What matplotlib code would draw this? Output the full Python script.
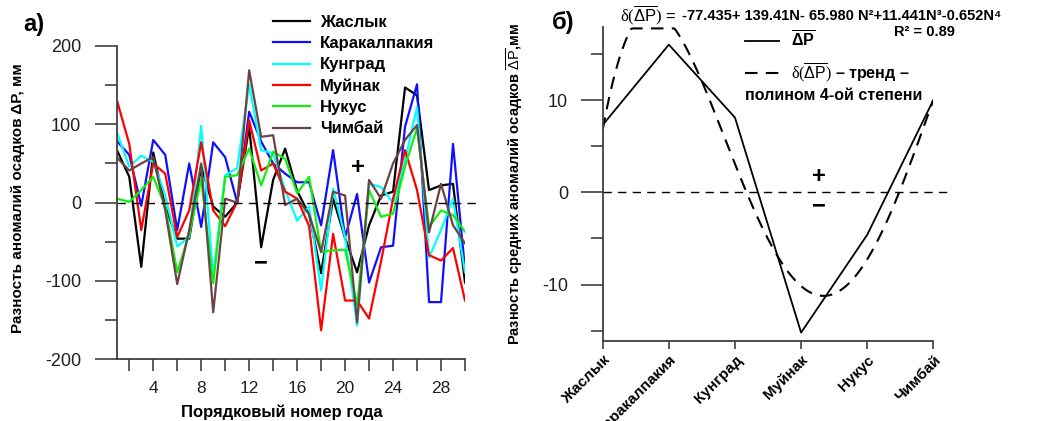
import numpy as np
import matplotlib
matplotlib.use("Agg")
import matplotlib.pyplot as plt

plt.rcParams['font.family'] = ['Liberation Sans', 'DejaVu Sans']
plt.rcParams['mathtext.fontset'] = 'custom'
plt.rcParams['mathtext.rm'] = 'Liberation Serif'
plt.rcParams['mathtext.it'] = 'Liberation Serif:italic'
plt.rcParams['mathtext.sf'] = 'Liberation Sans'
plt.rcParams['mathtext.bf'] = 'Liberation Sans:bold'
plt.rcParams['axes.unicode_minus'] = False

# --- данные панели а) : разность аномалий осадков по годам
years = list(range(1, 31))
zhaslyk = [66, 33, -82, 64, -5, -46, -46, 46, -5, -18, 0, 97, -57, 29, 69,
           15, -15, -90, 5, -45, -89, -29, 9, 14, 147, 137, 16, 22, 24, -102]
karakalpakia = [78, 61, -4, 80, 61, -35, 50, -31, 77, 58, 0, 116, 78, 50, 37,
                26, 26, -29, 67, -44, 11, -102, -57, -55, 97, 151, -127, -127, 75, -85]
kungrad = [88, 46, 60, 52, 10, -56, -44, 98, -94, 35, 44, 151, 67, 63, 16,
           -23, -5, -112, 18, -44, -157, 24, 20, 0, 54, 122, -70, -35, 5, -89]
muynak = [129, 75, -35, 50, 37, -44, -10, 77, -10, -30, 1, 105, 41, 50, 14,
          5, -30, -163, -40, -125, -125, -148, -75, 5, 67, 16, -67, -74, -58, -125]
nukus = [5, 1, 16, 33, -5, -89, -40, 30, -103, 33, 35, 69, 22, 65, 56,
         12, 33, -63, -61, -60, -131, 16, -18, -14, 46, 95, -31, -10, -16, -37]
chimbay = [57, 41, 50, 58, -10, -104, -35, 50, -140, 5, 0, 169, 84, 86, -3,
           5, -15, -63, 14, 9, -153, 29, 5, 50, 80, 99, -38, 24, -29, -52]

series_names = ['Жаслык', 'Каракалпакия', 'Кунград', 'Муйнак', 'Нукус', 'Чимбай']
series_colors = ['black', '#1010ff', '#00ffff', '#ff0000', '#10f010', '#6b4444']

# --- данные панели б) : средние по станциям и тренд
stations = ['Жаслык', 'Каракалпакия', 'Кунград', 'Муйнак', 'Нукус', 'Чимбай']
dp_mean = [7.3, 16.0, 8.1, -15.2, -4.6, 10.0]
# коэффициенты полинома из подписи (N^0 .. N^4)
trend_coef = [-77.435, 139.41, -65.980, 11.441, -0.652]
y_top = 17.91

spine_col = '#404040'

fig = plt.figure(figsize=(10.48, 4.21), dpi=100)

# ================= а) =================
ax1 = fig.add_axes([0.1119, 0.1466, 0.3318, 0.7442])
for name, col, vals in zip(series_names, series_colors,
                           [zhaslyk, karakalpakia, kungrad, muynak, nukus, chimbay]):
    ax1.plot(years, vals, color=col, lw=1.6, label=name)
ax1.axhline(0, xmin=0, xmax=1.045, color='black', lw=1, dashes=(6, 4.5), clip_on=False)

ax1.set_xlim(1, 30)
ax1.set_ylim(-200, 200)
ax1.set_xticks(range(4, 29, 4))
ax1.set_xticks(range(2, 31, 4), minor=True)
ax1.set_yticks([-200, -100, 0, 100, 200])
ax1.set_yticks([-150, -50, 50, 150], minor=True)
for s in ['top', 'right']:
    ax1.spines[s].set_visible(False)
for s in ['left', 'bottom']:
    ax1.spines[s].set_color(spine_col)
    ax1.spines[s].set_linewidth(1.3)
ax1.tick_params(axis='y', which='major', length=16, width=1.2, color=spine_col,
                labelsize=13, pad=10, labelcolor='#202020')
ax1.tick_params(axis='y', which='minor', length=8.6, width=1.2, color=spine_col)
ax1.tick_params(axis='x', which='both', length=8.6, width=1.2, color=spine_col,
                labelsize=12.5, pad=7, labelcolor='#202020')

ax1.set_ylabel('Разность аномалий осадков ΔP, мм', fontsize=11, fontweight='bold')
ax1.yaxis.set_label_coords(-0.265, 0.515)
ax1.set_xlabel('Порядковый номер года', fontsize=12, fontweight='bold')
ax1.xaxis.set_label_coords(0.474, -0.145)

ax1.legend(loc='upper left', bbox_to_anchor=(0.2605, 0.964), bbox_transform=fig.transFigure,
           frameon=False, prop={'weight': 'bold', 'size': 12}, handlelength=2.2,
           handletextpad=0.6, labelspacing=0.37, borderpad=0, borderaxespad=0)

ax1.text(21.1, 45, '+', fontsize=17, fontweight='bold', ha='center', va='center')
ax1.text(13.0, -77, '−', fontsize=17, fontweight='bold', ha='center', va='center')
fig.text(23 / 1048, 1 - 24 / 421, 'а)', fontsize=17, fontweight='bold', va='center')

# ================= б) =================
ax2 = fig.add_axes([0.5751, 0.1907, 0.3155, 0.7451])
xs = np.arange(len(stations))
ax2.plot(xs, dp_mean, color='black', lw=1.3, label=r'$\mathbf{\overline{\Delta P}}$')
n_fine = np.linspace(1, len(stations), 200)
trend = np.polynomial.polynomial.polyval(n_fine, trend_coef)
# в оригинале кривая упирается в верх графика и идёт по нему
trend = np.minimum(trend, y_top - 0.15)
ax2.plot(n_fine - 1, trend, color='black', lw=1.5, dashes=(6, 4),
         label=r'$\mathrm{\delta(}\overline{\mathsf{\Delta P}}\mathrm{)}$ – тренд –')
ax2.axhline(0, xmin=0, xmax=1.041, color='black', lw=1, dashes=(6, 4.5), clip_on=False)

ax2.set_xlim(0, 5)
ax2.set_ylim(-16.08, y_top)
ax2.set_xticks(xs)
ax2.set_xticklabels(stations, rotation=45, ha='right', va='top', rotation_mode='anchor',
                    fontsize=11, fontweight='bold')
ax2.set_yticks([-10, 0, 10])
ax2.set_yticks([-15, -5, 5, 15], minor=True)
for s in ['top', 'right']:
    ax2.spines[s].set_visible(False)
for s in ['left', 'bottom']:
    ax2.spines[s].set_color(spine_col)
    ax2.spines[s].set_linewidth(1.3)
ax2.tick_params(axis='y', which='major', length=16, width=1.2, color=spine_col,
                labelsize=13, pad=9, labelcolor='#202020')
ax2.tick_params(axis='y', which='minor', length=8.6, width=1.2, color=spine_col)
ax2.tick_params(axis='x', which='both', length=5.8, width=1.2, color=spine_col, pad=3)

ax2.set_ylabel(r'Разность средних аномалий осадков $\overline{\mathsf{\Delta P}}$,мм',
               fontsize=10.5, fontweight='bold')
ax2.yaxis.set_label_coords(-0.235, 0.50)

ax2.legend(loc='upper left', bbox_to_anchor=(0.7109, 0.93), bbox_transform=fig.transFigure,
           frameon=False, prop={'weight': 'bold', 'size': 11.5}, handlelength=2.1,
           handletextpad=0.75, labelspacing=0.75, borderpad=0, borderaxespad=0)
fig.text(745 / 1048, 1 - 95 / 421, 'полином 4-ой степени', fontsize=11.5,
         fontweight='bold', va='center')

ax2.text(3.27, 1.66, '+', fontsize=17, fontweight='bold', ha='center', va='center')
ax2.text(3.27, -1.5, '−', fontsize=17, fontweight='bold', ha='center', va='center')
fig.text(552 / 1048, 1 - 23 / 421, 'б)', fontsize=17, fontweight='bold', va='center')

fig.text(620 / 1048, 1 - 15 / 421, r'$\mathrm{\delta(}\overline{\mathsf{\Delta P}}\mathrm{)}$ =',
         fontsize=12, va='center')
fig.text(682 / 1048, 1 - 16 / 421, '-77.435+ 139.41N- 65.980 N²+11.441N³-0.652N⁴',
         fontsize=10.5, fontweight='bold', va='center')
fig.text(955 / 1048, 1 - 32 / 421, 'R² = 0.89', fontsize=10.5, fontweight='bold',
         ha='right', va='center')

fig.savefig('out.png', dpi=100)
